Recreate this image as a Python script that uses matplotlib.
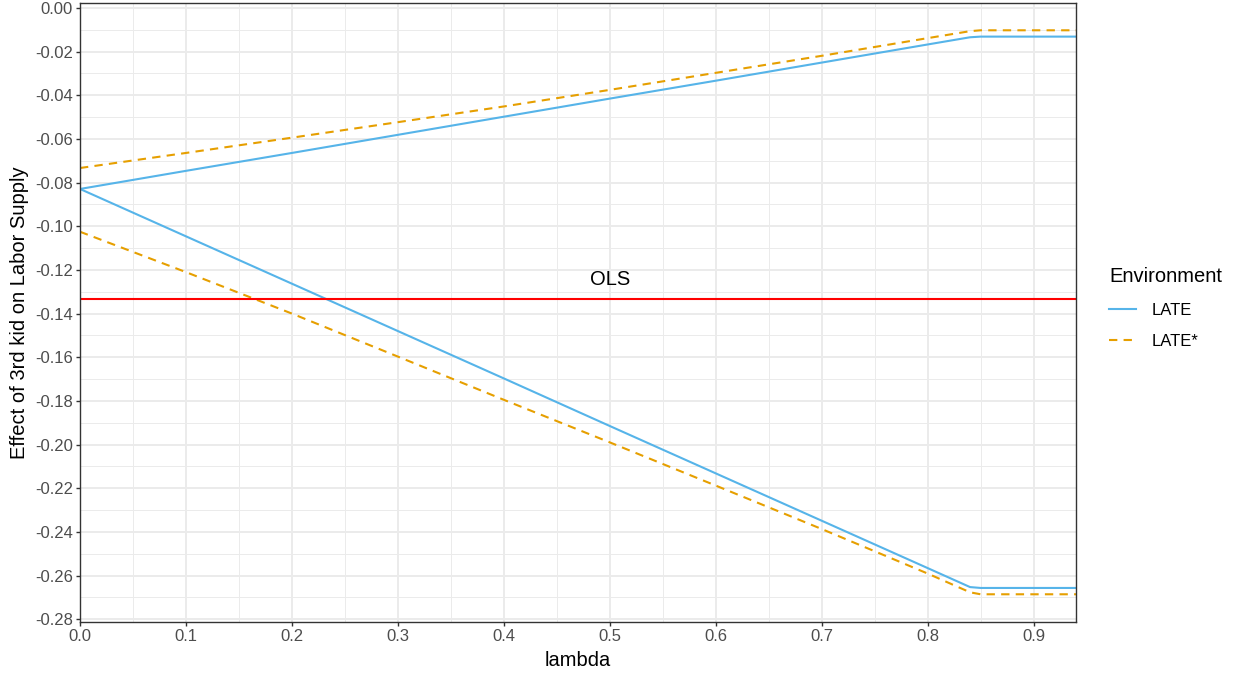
import numpy as np
import matplotlib
import matplotlib.pyplot as plt
matplotlib.use('Agg')

plt.rcParams['font.family'] = ['Liberation Sans', 'DejaVu Sans']

# lambda grid (kink between 0.84 and 0.85)
lam = [0.0, 0.1, 0.2, 0.3, 0.4, 0.5, 0.6, 0.7, 0.8, 0.84, 0.85, 0.94]

late_upper = [-0.0829, -0.0746, -0.0664, -0.0581, -0.0498, -0.0415,
              -0.0333, -0.0250, -0.0167, -0.0134, -0.0131, -0.0131]
late_lower = [-0.0829, -0.1046, -0.1263, -0.1480, -0.1697, -0.1915,
              -0.2132, -0.2349, -0.2566, -0.2653, -0.2657, -0.2657]
lates_upper = [-0.0733, -0.0664, -0.0594, -0.0523, -0.0451, -0.0375,
               -0.0297, -0.0219, -0.0138, -0.0106, -0.0102, -0.0102]
lates_lower = [-0.1025, -0.1210, -0.1400, -0.1597, -0.1795, -0.1990,
               -0.2188, -0.2387, -0.2591, -0.2677, -0.2686, -0.2686]

ols = -0.1334

blue = '#56B4E9'
orange = '#E69F00'

fig = plt.figure(figsize=(12.39, 6.73), dpi=100)
ax = fig.add_axes([80/1239, 1 - 622/673, (1076-80)/1239, (622-3)/673])

# grid like theme_bw
ax.set_xticks(np.arange(0, 0.91, 0.1))
ax.set_xticks(np.arange(0.05, 0.94, 0.1), minor=True)
ax.set_yticks(np.arange(-0.28, 0.001, 0.02))
ax.set_yticks(np.arange(-0.27, 0.0, 0.02), minor=True)
ax.grid(which='major', color='#EBEBEB', linewidth=1.4)
ax.grid(which='minor', color='#EBEBEB', linewidth=0.7)
ax.set_axisbelow(True)

ax.plot(lam, late_upper, color=blue, lw=1.5, label='LATE')
ax.plot(lam, late_lower, color=blue, lw=1.5)
ax.plot(lam, lates_upper, color=orange, lw=1.5, ls=(0, (4, 3)), label='LATE*')
ax.plot(lam, lates_lower, color=orange, lw=1.5, ls=(0, (4, 3)))

ax.axhline(ols, color='red', lw=1.5)
ax.text(0.5, -0.1242, 'OLS', ha='center', va='center', fontsize=14.5)

ax.set_xlim(0, 0.94)
ax.set_ylim(-0.2813, 0.0023)

ax.set_xticklabels(['%.1f' % v for v in np.arange(0, 0.91, 0.1)])
ax.set_yticklabels(['%.2f' % v if abs(v) > 1e-9 else '0.00' for v in np.arange(-0.28, 0.001, 0.02)])
ax.tick_params(which='major', length=3, color='#333333', labelsize=12,
               labelcolor='#4D4D4D', width=1, pad=2)
ax.tick_params(which='minor', length=0)
for s in ax.spines.values():
    s.set_color('#333333')
    s.set_linewidth(1)

ax.set_xlabel('lambda', fontsize=14.5, labelpad=5)
ax.set_ylabel('Effect of 3rd kid on Labor Supply', fontsize=14.5, labelpad=4)

leg = fig.legend(*ax.get_legend_handles_labels(), title='Environment',
                 loc='upper left', bbox_to_anchor=(1109/1239, 1 - 267/673),
                 frameon=False, fontsize=12, title_fontsize=14.5,
                 handlelength=1.6, handletextpad=0.95, labelspacing=1.0,
                 borderaxespad=0, borderpad=0, alignment='left')

plt.savefig('out.png', dpi=100)
